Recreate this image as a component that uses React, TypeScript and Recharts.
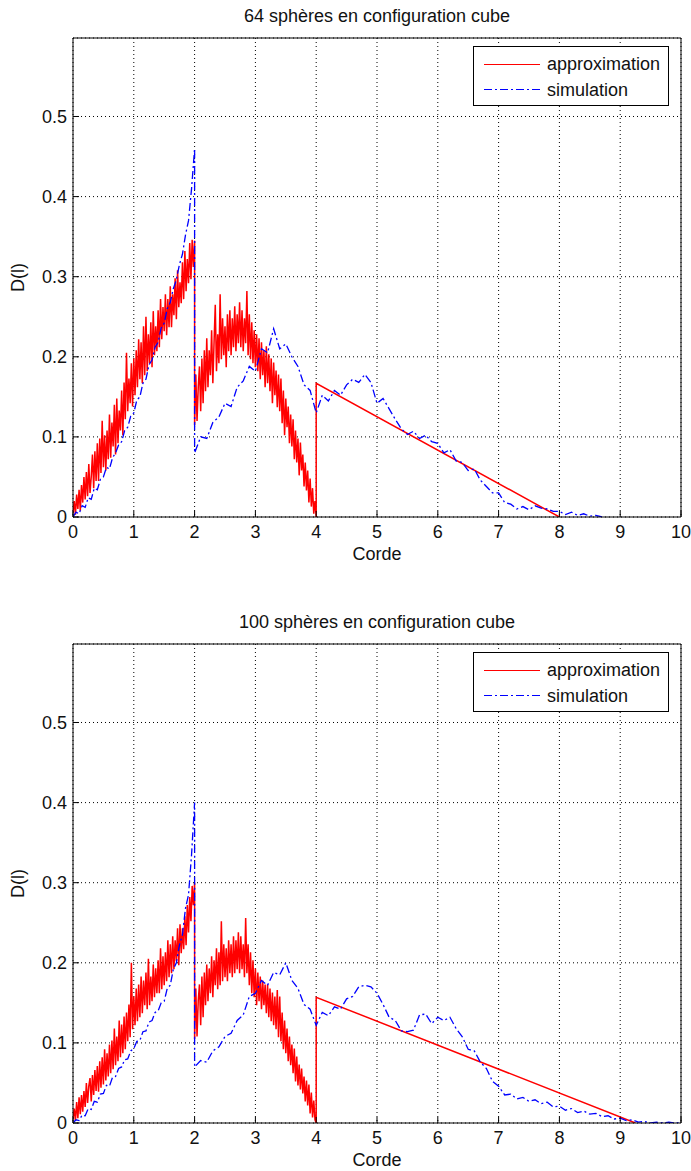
import React from "react";
import {
	ComposedChart,
	Line,
	XAxis,
	YAxis,
	CartesianGrid,
	Legend,
	Label,
} from "recharts";

// ─── Axes / texts ──────────────────────────────────────────────────────────

const X_TICKS = [0, 1, 2, 3, 4, 5, 6, 7, 8, 9, 10];
const Y_TICKS = [0, 0.1, 0.2, 0.3, 0.4, 0.5];
const Y_MAX = 0.598;
const SERIES_NAMES = ["approximation", "simulation"];
const TITLES = [
	"64 sphères en configuration cube",
	"100 sphères en configuration cube",
];
const X_LABEL = "Corde";
const Y_LABEL = "D(l)";

const FONT = "'Liberation Sans', Arial, Helvetica, sans-serif";
const RED = "#ff0000";
const BLUE = "#0000ff";
const DASH_DOT = "8 3 2 3";

// ─── 64 sphères ────────────────────────────────────────────────────────────

// approximation, x = 0 .. 2 (pas 0.02)
const approx64A = [
	0.005, 0.02, 0.003, 0.028, 0.01, 0.034, 0.008, 0.04, 0.018, 0.05,
	0.022, 0.056, 0.026, 0.066, 0.03, 0.05, 0.078, 0.036, 0.082, 0.045,
	0.092, 0.045, 0.098, 0.055, 0.12, 0.062, 0.102, 0.058, 0.108, 0.072,
	0.128, 0.074, 0.118, 0.088, 0.14, 0.078, 0.148, 0.092, 0.133, 0.108,
	0.158, 0.102, 0.168, 0.122, 0.205, 0.132, 0.173, 0.142, 0.192, 0.138,
	0.198, 0.152, 0.208, 0.162, 0.222, 0.172, 0.218, 0.167, 0.238, 0.177,
	0.25, 0.182, 0.228, 0.192, 0.243, 0.187, 0.257, 0.202, 0.238, 0.207,
	0.258, 0.212, 0.272, 0.222, 0.262, 0.232, 0.278, 0.227, 0.272, 0.237,
	0.288, 0.237, 0.278, 0.252, 0.298, 0.247, 0.308, 0.262, 0.293, 0.267,
	0.318, 0.272, 0.332, 0.282, 0.322, 0.292, 0.342, 0.297, 0.346, 0.312,
	0.345,
];
// approximation, x = 2 .. 4 (pas 0.02)
const approx64B = [
	0.115, 0.178, 0.12, 0.162, 0.188, 0.132, 0.198, 0.142, 0.208, 0.157,
	0.223, 0.162, 0.208, 0.177, 0.233, 0.167, 0.218, 0.265, 0.182, 0.228,
	0.192, 0.278, 0.197, 0.248, 0.202, 0.238, 0.187, 0.253, 0.207, 0.258,
	0.202, 0.248, 0.212, 0.263, 0.207, 0.253, 0.217, 0.268, 0.212, 0.258,
	0.207, 0.248, 0.217, 0.282, 0.202, 0.253, 0.197, 0.243, 0.192, 0.233,
	0.187, 0.228, 0.182, 0.223, 0.172, 0.218, 0.177, 0.208, 0.162, 0.213,
	0.167, 0.203, 0.157, 0.198, 0.142, 0.193, 0.152, 0.183, 0.137, 0.178,
	0.132, 0.173, 0.117, 0.158, 0.102, 0.148, 0.112, 0.138, 0.092, 0.128,
	0.088, 0.122, 0.072, 0.108, 0.068, 0.098, 0.052, 0.093, 0.058, 0.078,
	0.038, 0.068, 0.033, 0.058, 0.018, 0.048, 0.013, 0.036, 0.004, 0.02,
	0,
];
// approximation, segment droit
const approx64Tail = [
	[4, 0.167],
	[8, 0],
];
// simulation, x = 0 .. 2 (pas 0.05)
const simu64A = [
	0, 0.006, 0.004, 0.014, 0.012, 0.024, 0.022, 0.036, 0.034, 0.047, 0.05, 0.062,
	0.06, 0.074, 0.08, 0.09, 0.094, 0.108, 0.112, 0.126, 0.13, 0.146, 0.15, 0.167,
	0.172, 0.19, 0.196, 0.212, 0.218, 0.236, 0.242, 0.26, 0.268, 0.285, 0.296,
	0.315, 0.328, 0.352, 0.37, 0.41, 0.46,
];
// simulation, x = 2 .. 8.7 (pas 0.1)
const simu64B = [
	0.08, 0.1, 0.098, 0.118, 0.125, 0.142, 0.138, 0.162, 0.17, 0.188,
	0.182, 0.21, 0.205, 0.235, 0.21, 0.216, 0.2, 0.188, 0.165, 0.158,
	0.13, 0.152, 0.145, 0.158, 0.152, 0.165, 0.172, 0.168, 0.178, 0.168,
	0.142, 0.148, 0.135, 0.122, 0.11, 0.103, 0.107, 0.098, 0.102, 0.094,
	0.092, 0.08, 0.084, 0.07, 0.068, 0.058, 0.06, 0.046, 0.038, 0.03,
	0.03, 0.018, 0.016, 0.01, 0.013, 0.009, 0.014, 0.011, 0.01, 0.007,
	0.007, 0.003, 0.006, 0.002, 0.004, 0.001, 0.002, 0,
];

// ─── 100 sphères ───────────────────────────────────────────────────────────

const approx100A = [
	0.005, 0.018, 0.003, 0.026, 0.006, 0.032, 0.011, 0.035, 0.014, 0.04,
	0.02, 0.05, 0.025, 0.046, 0.056, 0.027, 0.06, 0.035, 0.066, 0.04,
	0.071, 0.039, 0.077, 0.044, 0.082, 0.048, 0.092, 0.053, 0.087, 0.058,
	0.098, 0.062, 0.103, 0.067, 0.118, 0.072, 0.108, 0.077, 0.128, 0.082,
	0.123, 0.087, 0.133, 0.092, 0.138, 0.102, 0.148, 0.107, 0.2, 0.117,
	0.158, 0.122, 0.168, 0.127, 0.173, 0.132, 0.183, 0.137, 0.178, 0.147,
	0.188, 0.142, 0.205, 0.147, 0.183, 0.152, 0.198, 0.157, 0.193, 0.162,
	0.203, 0.162, 0.218, 0.167, 0.208, 0.172, 0.213, 0.177, 0.228, 0.182,
	0.223, 0.187, 0.233, 0.192, 0.228, 0.202, 0.243, 0.197, 0.248, 0.212,
	0.243, 0.217, 0.258, 0.222, 0.272, 0.238, 0.282, 0.252, 0.296, 0.272,
	0.3,
];
const approx100B = [
	0.105, 0.168, 0.108, 0.153, 0.173, 0.122, 0.183, 0.132, 0.188, 0.147,
	0.198, 0.152, 0.193, 0.162, 0.208, 0.157, 0.203, 0.172, 0.218, 0.167,
	0.213, 0.172, 0.252, 0.177, 0.223, 0.182, 0.218, 0.177, 0.228, 0.187,
	0.223, 0.182, 0.233, 0.187, 0.228, 0.192, 0.238, 0.187, 0.233, 0.192,
	0.223, 0.182, 0.256, 0.187, 0.223, 0.172, 0.213, 0.162, 0.203, 0.157,
	0.193, 0.147, 0.188, 0.152, 0.183, 0.142, 0.178, 0.147, 0.173, 0.137,
	0.173, 0.132, 0.168, 0.127, 0.163, 0.122, 0.158, 0.117, 0.166, 0.107,
	0.158, 0.102, 0.138, 0.092, 0.128, 0.087, 0.118, 0.077, 0.108, 0.072,
	0.098, 0.062, 0.093, 0.052, 0.083, 0.047, 0.073, 0.042, 0.068, 0.037,
	0.058, 0.027, 0.053, 0.022, 0.048, 0.012, 0.038, 0.007, 0.028, 0.004,
	0,
];
const approx100Tail = [
	[4, 0.157],
	[9.25, 0],
];
const simu100A = [
	0, 0.004, 0.003, 0.01, 0.009, 0.018, 0.017, 0.027, 0.026, 0.036, 0.037, 0.047,
	0.046, 0.057, 0.058, 0.068, 0.07, 0.079, 0.08, 0.09, 0.093, 0.102, 0.103, 0.114,
	0.115, 0.126, 0.128, 0.138, 0.14, 0.15, 0.152, 0.168, 0.172, 0.192, 0.2, 0.222,
	0.235, 0.268, 0.285, 0.335, 0.4,
];
// simulation, x = 2 .. 10 (pas 0.1)
const simu100B = [
	0.07, 0.078, 0.076, 0.09, 0.095, 0.108, 0.112, 0.128, 0.135, 0.158,
	0.162, 0.178, 0.172, 0.188, 0.185, 0.2, 0.178, 0.168, 0.148, 0.142,
	0.122, 0.138, 0.134, 0.145, 0.142, 0.155, 0.158, 0.17, 0.172, 0.17,
	0.162, 0.148, 0.132, 0.128, 0.115, 0.114, 0.116, 0.135, 0.136, 0.124,
	0.132, 0.128, 0.132, 0.118, 0.108, 0.092, 0.09, 0.076, 0.068, 0.052,
	0.046, 0.035, 0.036, 0.03, 0.032, 0.027, 0.029, 0.024, 0.026, 0.02,
	0.021, 0.016, 0.018, 0.013, 0.015, 0.011, 0.012, 0.008, 0.009, 0.005,
	0.006, 0.003, 0.004, 0.001, 0.002, 0, 0.001, 0, 0.001, 0,
	0,
];

// ─── Helpers ───────────────────────────────────────────────────────────────

type Pt = { x: number; y: number };

// valeurs lues sur une grille réguliere de x
const sampled = (x0: number, step: number, ys: number[]): Pt[] =>
	ys.map((y, i) => ({ x: +(x0 + i * step).toFixed(3), y }));

const pairs = (list: number[][]): Pt[] => list.map(([x, y]) => ({ x, y }));

const approx64 = [
	...sampled(0, 0.02, approx64A),
	...sampled(2, 0.02, approx64B),
	...pairs(approx64Tail),
];
const simu64 = [...sampled(0, 0.05, simu64A), ...sampled(2, 0.1, simu64B)];

const approx100 = [
	...sampled(0, 0.02, approx100A),
	...sampled(2, 0.02, approx100B),
	...pairs(approx100Tail),
];
const simu100 = [...sampled(0, 0.05, simu100A), ...sampled(2, 0.1, simu100B)];

// ─── Legend box ────────────────────────────────────────────────────────────

function MatlabLegend() {
	return (
		<svg width={196} height={60} style={{ display: "block" }}>
			<rect x={0.5} y={0.5} width={195} height={59} fill="#fff" stroke="#000" />
			<line x1={11} x2={67} y1={18.5} y2={18.5} stroke={RED} strokeWidth={1.2} />
			<text x={74} y={23.5} fontSize={18} fontFamily={FONT} fill="#111">
				{SERIES_NAMES[0]}
			</text>
			<line
				x1={11}
				x2={67}
				y1={43.5}
				y2={43.5}
				stroke={BLUE}
				strokeWidth={1.2}
				strokeDasharray={DASH_DOT}
			/>
			<text x={74} y={50} fontSize={18} fontFamily={FONT} fill="#111">
				{SERIES_NAMES[1]}
			</text>
		</svg>
	);
}

function YLabel(props: any) {
	const vb = props.viewBox ?? { x: 33, y: 38, width: 40, height: 479 };
	const cx = vb.x - 15;
	const cy = vb.y + vb.height / 2;
	return (
		<text
			x={cx}
			y={cy}
			transform={`rotate(-90 ${cx} ${cy})`}
			textAnchor="middle"
			dy="0.35em"
			fontSize={18}
			fontFamily={FONT}
			fill="#111"
		>
			{Y_LABEL}
		</text>
	);
}

// ─── One subplot ───────────────────────────────────────────────────────────

const tickStyle = { fill: "#111", fontSize: 18, fontFamily: FONT };
const black = { stroke: "#000" };

function Panel({
	title,
	approx,
	simu,
	top,
}: {
	title: string;
	approx: Pt[];
	simu: Pt[];
	top: number;
}) {
	return (
		<div style={{ position: "absolute", left: 0, top, width: 691, height: 565 }}>
			<ComposedChart
				width={691}
				height={565}
				margin={{ top: 37, right: 9, bottom: 3, left: 33 }}
			>
				<CartesianGrid stroke="#000" strokeDasharray="1 3" />
				<XAxis
					dataKey="x"
					type="number"
					domain={[0, 10]}
					ticks={X_TICKS}
					interval={0}
					allowDataOverflow
					height={45}
					tickSize={-6}
					tickMargin={14}
					axisLine={black}
					tickLine={black}
					tick={tickStyle}
				>
					<Label
						value={X_LABEL}
						position="insideBottom"
						offset={2}
						fill="#111"
						fontSize={18}
						fontFamily={FONT}
					/>
				</XAxis>
				<XAxis
					xAxisId="top"
					orientation="top"
					dataKey="x"
					type="number"
					domain={[0, 10]}
					ticks={X_TICKS}
					interval={0}
					allowDataOverflow
					height={1}
					tickSize={-6}
					axisLine={black}
					tickLine={black}
					tick={false}
				>
					<Label
						value={title}
						position="top"
						offset={15}
						fill="#111"
						fontSize={18}
						fontFamily={FONT}
					/>
				</XAxis>
				<YAxis
					type="number"
					domain={[0, Y_MAX]}
					ticks={Y_TICKS}
					interval={0}
					allowDataOverflow
					width={40}
					tickSize={-6}
					tickMargin={12}
					axisLine={black}
					tickLine={black}
					tick={tickStyle}
				>
					<Label content={YLabel} />
				</YAxis>
				<YAxis
					yAxisId="right"
					orientation="right"
					type="number"
					domain={[0, Y_MAX]}
					ticks={Y_TICKS}
					interval={0}
					allowDataOverflow
					width={1}
					tickSize={-6}
					axisLine={black}
					tickLine={black}
					tick={false}
				/>
				<Legend
					layout="vertical"
					align="center"
					verticalAlign="middle"
					content={() => <MatlabLegend />}
					wrapperStyle={{ left: 473, top: 46, width: 196, height: 60 }}
				/>
				<Line
					data={approx}
					dataKey="y"
					name={SERIES_NAMES[0]}
					type="linear"
					stroke={RED}
					strokeWidth={1.5}
					dot={false}
					activeDot={false}
					isAnimationActive={false}
				/>
				<Line
					data={simu}
					dataKey="y"
					name={SERIES_NAMES[1]}
					type="linear"
					stroke={BLUE}
					strokeWidth={1.3}
					strokeDasharray={DASH_DOT}
					dot={false}
					activeDot={false}
					isAnimationActive={false}
				/>
			</ComposedChart>
		</div>
	);
}

export default function App() {
	return (
		<div
			style={{
				position: "absolute",
				left: 0,
				top: 0,
				width: 691,
				height: 1171,
				background: "#fff",
				overflow: "hidden",
			}}
		>
			<Panel title={TITLES[0]} approx={approx64} simu={simu64} top={0} />
			<Panel title={TITLES[1]} approx={approx100} simu={simu100} top={606} />
		</div>
	);
}
